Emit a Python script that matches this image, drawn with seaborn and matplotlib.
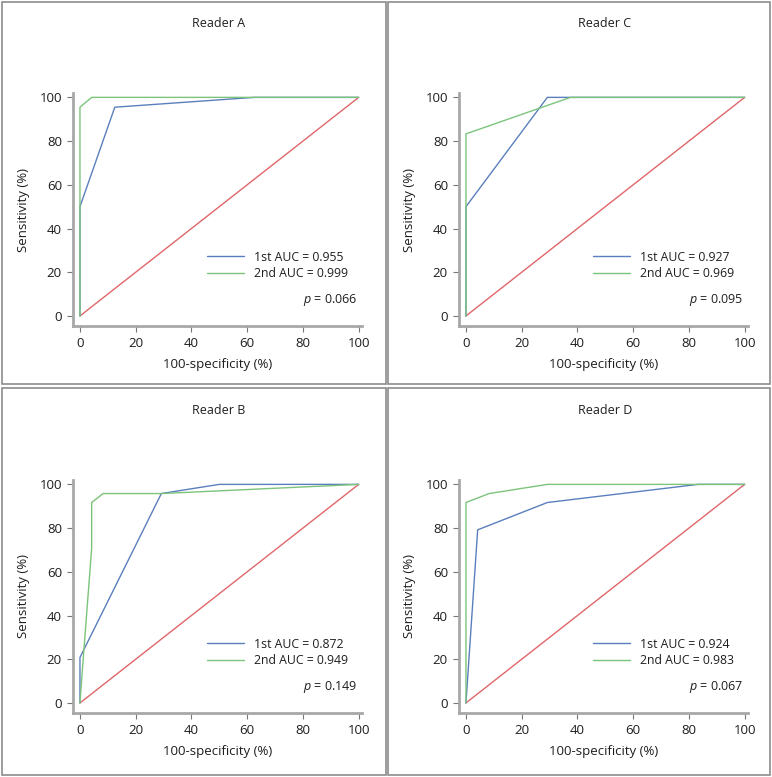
import seaborn as sns
import matplotlib.pyplot as plt
import pandas as pd
from matplotlib.patches import Rectangle

# ROC points (100-specificity, sensitivity), in %
a_fpr1 = [0, 0, 12.5, 62.5, 100]
a_tpr1 = [0, 50, 95.5, 100, 100]
a_fpr2 = [0, 0, 4.2, 100]
a_tpr2 = [0, 95.5, 100, 100]

c_fpr1 = [0, 0, 29.2, 100]
c_tpr1 = [0, 50, 100, 100]
c_fpr2 = [0, 0, 37.5, 100]
c_tpr2 = [0, 83.3, 100, 100]

b_fpr1 = [0, 0, 29.2, 50, 100]
b_tpr1 = [0, 20.8, 95.8, 100, 100]
b_fpr2 = [0, 1.2, 4.2, 4.2, 8.3, 29.2, 100]
b_tpr2 = [0, 20.8, 70.8, 91.7, 95.8, 95.8, 100]

d_fpr1 = [0, 4.2, 29.2, 83.3, 100]
d_tpr1 = [0, 79.2, 91.7, 100, 100]
d_fpr2 = [0, 0, 8.3, 29.2, 100]
d_tpr2 = [0, 91.7, 95.8, 100, 100]

readers = ['Reader A', 'Reader C', 'Reader B', 'Reader D']
auc_1st = ['0.955', '0.927', '0.872', '0.924']
auc_2nd = ['0.999', '0.969', '0.949', '0.983']
p_values = ['0.066', '0.095', '0.149', '0.067']
diag = [0, 100]
ticks = [0, 20, 40, 60, 80, 100]

curves = [
    (a_fpr1, a_tpr1, a_fpr2, a_tpr2),
    (c_fpr1, c_tpr1, c_fpr2, c_tpr2),
    (b_fpr1, b_tpr1, b_fpr2, b_tpr2),
    (d_fpr1, d_tpr1, d_fpr2, d_tpr2),
]

sns.set_style('ticks')
plt.rcParams['font.family'] = ['Open Sans', 'DejaVu Sans']
plt.rcParams['mathtext.fontset'] = 'custom'
plt.rcParams['mathtext.it'] = 'Open Sans:italic'
plt.rcParams['mathtext.rm'] = 'Open Sans'

W, H = 772, 777
fig = plt.figure(figsize=(W / 100, H / 100), dpi=100)

# panel boxes (pixels: left, top, right, bottom)
boxes = [(2, 2, 386, 384), (388, 2, 770, 384), (2, 388, 386, 775), (388, 388, 770, 775)]
for l, t, r, b in boxes:
    fig.patches.append(Rectangle((l / W, 1 - b / H), (r - l) / W, (b - t) / H,
                                 transform=fig.transFigure, fill=False,
                                 edgecolor='#8c8c8c', linewidth=1.2))

# axes positions (pixels: left, top)
axes_px = [(73, 93), (459, 93), (73, 480), (459, 480)]
blue, green, red = '#5a7fbd', '#7cc47c', '#e0666a'
txt = '#1e1e1e'

for i, (l, t) in enumerate(axes_px):
    ax = fig.add_axes([l / W, 1 - (t + 233) / H, 289 / W, 233 / H])
    f1, t1, f2, t2 = curves[i]
    sns.lineplot(x=diag, y=diag, ax=ax, color=red, linewidth=1, sort=False, estimator=None)
    sns.lineplot(data=pd.DataFrame({'x': f1, 'y': t1}), x='x', y='y', ax=ax, color=blue,
                 linewidth=1, sort=False, estimator=None,
                 label=f'1st AUC = {auc_1st[i]}')
    sns.lineplot(data=pd.DataFrame({'x': f2, 'y': t2}), x='x', y='y', ax=ax, color=green,
                 linewidth=1, sort=False, estimator=None,
                 label=f'2nd AUC = {auc_2nd[i]}')
    ax.set_xlim(-2.5, 101.2)
    ax.set_ylim(-4.6, 102)
    ax.set_xticks(ticks)
    ax.set_yticks(ticks)
    for s in ['top', 'right']:
        ax.spines[s].set_visible(False)
    for s in ['left', 'bottom']:
        ax.spines[s].set_color('#a8a8a8')
        ax.spines[s].set_linewidth(2)
    ax.tick_params(direction='out', length=4, width=0.8, color='#777777',
                   labelsize=9.5, labelcolor=txt, pad=4)
    ax.set_xlabel('100-specificity (%)', fontsize=9.5, color=txt, labelpad=6)
    ax.set_ylabel('Sensitivity (%)', fontsize=9.5, color=txt, labelpad=7)
    ax.text(0.505, 1.30, readers[i], transform=ax.transAxes, ha='center', va='center',
            fontsize=9, color=txt)
    ax.legend(loc='center left', bbox_to_anchor=(0.465, 0.26), frameon=False,
              fontsize=8.8, handlelength=3.0, handletextpad=0.8, labelspacing=0.3,
              borderpad=0, borderaxespad=0, labelcolor=txt)
    ax.text(0.985, 0.11, f'$p$ = {p_values[i]}', transform=ax.transAxes,
            ha='right', va='center', fontsize=9, color=txt)

fig.savefig('out.png', dpi=100)
